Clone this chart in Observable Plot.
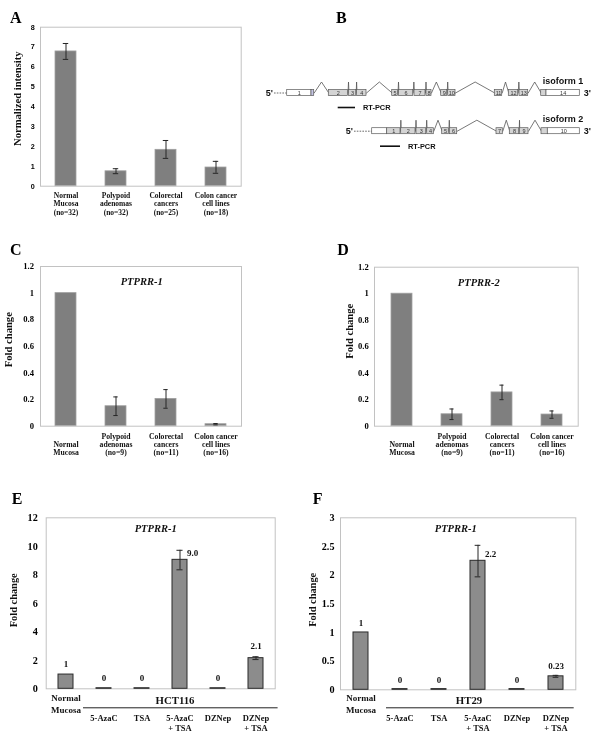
<!DOCTYPE html>
<html><head><meta charset="utf-8">
<script src="https://cdn.jsdelivr.net/npm/d3@7"></script>
<script src="https://cdn.jsdelivr.net/npm/@observablehq/plot@0.6"></script>
<style>
body{margin:0;background:#fff;}
#fig{position:relative;width:600px;height:748px;overflow:hidden;background:#fff;}
.panel{position:absolute;will-change:transform;}
.panel svg{display:block;}
.letter{position:absolute;font:bold 16px 'Liberation Serif','Times New Roman',serif;line-height:16px;color:#000;}
</style></head><body><div id="fig"></div>
<script>
const SERIF = "'Liberation Serif', 'Times New Roman', serif";
const SANS = "'Liberation Sans', Arial, sans-serif";

// ---------- Panel A data ----------
const tissueCats = ["Normal Mucosa", "Polypoid adenomas", "Colorectal cancers", "Colon cancer cell lines"];
const tissueLabelsA = ["Normal\nMucosa\n(no=32)", "Polypoid\nadenomas\n(no=32)", "Colorectal\ncancers\n(no=25)", "Colon cancer\ncell lines\n(no=18)"];
const intensityMean = [6.78, 0.75, 1.83, 0.94];
const intensityLow  = [6.38, 0.63, 1.40, 0.65];
const intensityHigh = [7.18, 0.88, 2.30, 1.25];
const intensityTicks = [0, 1, 2, 3, 4, 5, 6, 7, 8];

// ---------- Panels C, D data ----------
const tissueLabelsCD = ["\nNormal\nMucosa", "Polypoid\nadenomas\n(no=9)", "Colorectal\ncancers\n(no=11)", "Colon cancer\ncell lines\n(no=16)"];
const ptprr1Mean = [1.0, 0.15, 0.205, 0.015];
const ptprr1Low  = [null, 0.08, 0.135, 0.010];
const ptprr1High = [null, 0.22, 0.275, 0.020];
const ptprr2Mean = [1.0, 0.09, 0.255, 0.088];
const ptprr2Low  = [null, 0.05, 0.200, 0.060];
const ptprr2High = [null, 0.13, 0.310, 0.115];
const foldTicksCD = [0, 0.2, 0.4, 0.6, 0.8, 1, 1.2];

// ---------- Panels E, F data ----------
const treatments = ["Normal Mucosa", "5-AzaC", "TSA", "5-AzaC + TSA", "DZNep", "DZNep + TSA"];
const treatmentLabels = ["Normal\nMucosa", "5-AzaC", "TSA", "5-AzaC\n+ TSA", "DZNep", "DZNep\n+ TSA"];
const hct116Mean = [1.0, 0.04, 0.04, 9.05, 0.04, 2.15];
const hct116Low  = [null, null, null, 8.35, null, 2.05];
const hct116High = [null, null, null, 9.72, null, 2.25];
const hct116Text = ["1", "0", "0", "9.0", "0", "2.1"];
const hct116Ticks = [0, 2, 4, 6, 8, 10, 12];
const ht29Mean = [1.0, 0.012, 0.012, 2.25, 0.012, 0.235];
const ht29Low  = [null, null, null, 1.97, null, 0.218];
const ht29High = [null, null, null, 2.52, null, 0.252];
const ht29Text = ["1", "0", "0", "2.2", "0", "0.23"];
const ht29Ticks = [0, 0.5, 1, 1.5, 2, 2.5, 3];

// ---------- Panel B data (schematic, diagram units) ----------
const iso1ExonLabel = ["1", "", "2", "3", "4", "5", "6", "7", "8", "9", "10", "11", "12", "13", "", "14"];
const iso1ExonStart = [286.7, 311, 328.3, 348.5, 356.5, 391.7, 398.5, 414, 426, 440.7, 447.7, 494.3, 508.3, 519, 540.7, 546];
const iso1ExonEnd   = [311, 313.7, 347.5, 355.7, 366, 397.5, 412.7, 425, 431, 446.7, 455, 501.7, 517.7, 527.7, 546, 579.3];
const iso1ExonKind  = ["utr", "alt", "cds", "cds", "cds", "cds", "cds", "cds", "cds", "cds", "cds", "cds", "cds", "cds", "cds", "utr"];
const iso1Joined    = [false, true, false, false, false, false, false, false, false, false, false, false, false, false, false, true];
const iso2ExonLabel = ["", "1", "2", "3", "4", "5", "6", "7", "8", "9", "", "10"];
const iso2ExonStart = [371.7, 386.7, 400.7, 416, 426.7, 441.7, 449.3, 496, 509.3, 519.3, 541, 547.3];
const iso2ExonEnd   = [386.7, 400, 415, 425.7, 433.3, 448.3, 456.7, 502.3, 518.7, 528, 547.3, 579.3];
const iso2ExonKind  = ["utr", "cds", "cds", "cds", "cds", "cds", "cds", "cds", "cds", "cds", "cds", "utr"];
const iso2Joined    = [false, true, false, false, false, false, false, false, false, false, false, true];
const isoformNames = ["isoform 1", "isoform 2"];
const isoformRow = [92.5, 130.7];
const isoformDashStart = [274, 354];
const rtpcrStart = [337.7, 380];
const rtpcrEnd = [355, 400];
const rtpcrRow = [107, 145.7];

const fig = document.getElementById("fig");
function addPanel(el, left, top, w) {
  const d = document.createElement("div");
  d.className = "panel";
  d.style.left = left + "px"; d.style.top = top + "px"; d.style.width = w + "px";
  d.appendChild(el); fig.appendChild(d);
}
function addLetter(t, left, top) {
  const d = document.createElement("div");
  d.className = "letter"; d.textContent = t;
  d.style.left = left + "px"; d.style.top = top + "px";
  fig.appendChild(d);
}

function errorMarks(data, inset, stroke) {
  const e = data.filter(d => d.lo != null);
  return [
    Plot.ruleX(e, {x: "cat", y1: "lo", y2: "hi", stroke, strokeWidth: 1}),
    Plot.tickY(e, {x: "cat", y: "lo", stroke, strokeWidth: 1, insetLeft: inset, insetRight: inset}),
    Plot.tickY(e, {x: "cat", y: "hi", stroke, strokeWidth: 1, insetLeft: inset, insetRight: inset})
  ];
}

function tissuePanel(o) {
  const data = tissueCats.map((c, i) => ({cat: c, v: o.mean[i], lo: o.low[i], hi: o.high[i], label: o.labels[i]}));
  const W = 300, H = 240, PI = 0.59;
  const bw = (W - o.ml - o.mr) / tissueCats.length * (1 - PI);
  return Plot.plot({
    width: W, height: H, marginLeft: o.ml, marginRight: o.mr, marginTop: o.mt, marginBottom: o.mb,
    style: {background: "transparent", overflow: "visible"},
    x: {domain: tissueCats, paddingInner: PI, paddingOuter: PI / 2, axis: null},
    y: {domain: o.yDomain, axis: null},
    marks: [
      Plot.barY(data, {x: "cat", y: "v", fill: "#7f7f7f", stroke: "#a0a0a0", strokeWidth: 0.8}),
      Plot.frame({stroke: "#c2c2c2", strokeWidth: 1}),
      ...errorMarks(data, (bw - o.cap) / 2, "#262626"),
      Plot.axisY({ticks: o.ticks, tickSize: 0, tickPadding: o.tickPad, tickFormat: d => String(d),
        fontFamily: o.tickFont, fontWeight: "bold", fontSize: o.tickFontSize, label: null}),
      Plot.text(data, {x: "cat", text: "label", frameAnchor: "bottom", lineAnchor: "top", dy: o.catDy,
        fontFamily: SERIF, fontWeight: "bold", fontSize: o.catSize, lineHeight: o.catLh, fill: "#111"}),
      Plot.text([o.yLabel], {frameAnchor: "left", textAnchor: "middle", lineAnchor: "middle", rotate: -90, dx: o.ylDx, dy: o.ylDy,
        fontFamily: SERIF, fontWeight: "bold", fontSize: 10.6, fill: "#111"}),
      o.title ? Plot.text([o.title], {frameAnchor: "top", lineAnchor: "bottom", dx: o.tDx, dy: o.tDy,
        fontFamily: SERIF, fontWeight: "bold", fontStyle: "italic", fontSize: 10.5, fill: "#111"}) : null
    ]
  });
}

function treatmentPanel(o) {
  const maxV = d3.max(o.mean);
  const data = treatments.map((c, i) => ({
    cat: c, v: o.mean[i], lo: o.low[i], hi: o.high[i], txt: o.text[i],
    top: Math.max(o.mean[i], o.high[i] ?? o.mean[i]), side: o.mean[i] === maxV, label: treatmentLabels[i]
  }));
  const W = 300, H = 268, PI = 0.61;
  const bw = (W - o.ml - o.mr) / treatments.length * (1 - PI);
  return Plot.plot({
    width: W, height: H, marginLeft: o.ml, marginRight: o.mr, marginTop: o.mt, marginBottom: o.mb,
    style: {background: "transparent", overflow: "visible"},
    x: {domain: treatments, paddingInner: PI, paddingOuter: PI / 2, axis: null},
    y: {domain: o.yDomain, axis: null},
    marks: [
      Plot.frame({stroke: "#c2c2c2", strokeWidth: 1}),
      Plot.barY(data, {x: "cat", y: "v", fill: "#8c8c8c", stroke: "#2b2b2b", strokeWidth: 1}),
      ...errorMarks(data, (bw - 6) / 2, "#262626"),
      Plot.axisY({ticks: o.ticks, tickSize: 0, tickPadding: o.tickPad, tickFormat: d => String(d),
        fontFamily: SERIF, fontWeight: "bold", fontSize: 10.2, label: null}),
      Plot.text(data.filter(d => !d.side), {x: "cat", y: "top", text: "txt", lineAnchor: "bottom", dy: o.valDy,
        fontFamily: SERIF, fontWeight: "bold", fontSize: 9, fill: "#111"}),
      Plot.text(data.filter(d => d.side), {x: "cat", y: "v", text: "txt", lineAnchor: "bottom", textAnchor: "start", dx: 7, dy: -4,
        fontFamily: SERIF, fontWeight: "bold", fontSize: 9, fill: "#111"}),
      Plot.text(data.slice(0, 1), {x: "cat", text: "label", frameAnchor: "bottom", lineAnchor: "top", dy: o.normDy,
        fontFamily: SERIF, fontWeight: "bold", fontSize: 9, lineHeight: 1.29, fill: "#111"}),
      Plot.text(data.slice(1), {x: "cat", text: "label", frameAnchor: "bottom", lineAnchor: "top", dy: o.treatDy,
        fontFamily: SERIF, fontWeight: "bold", fontSize: 8.5, lineHeight: 1.18, fill: "#111"}),
      Plot.text([o.cellLine], {x: () => treatments[3], frameAnchor: "bottom", lineAnchor: "bottom", dx: o.cellDx, dy: o.cellDy,
        fontFamily: SERIF, fontWeight: "bold", fontSize: 10.8, fill: "#111"}),
      Plot.ruleY([0], {x1: () => treatments[1], x2: () => treatments[5], dy: o.cellDy + 4,
        insetLeft: o.lineInsetL, insetRight: o.lineInsetR, stroke: "#222", strokeWidth: 1}),
      Plot.text(["Fold change"], {frameAnchor: "left", textAnchor: "middle", lineAnchor: "middle", rotate: -90, dx: o.ylDx, dy: o.ylDy,
        fontFamily: SERIF, fontWeight: "bold", fontSize: 10.4, fill: "#111"}),
      Plot.text([o.title], {frameAnchor: "top", lineAnchor: "bottom", dx: o.tDx, dy: o.tDy,
        fontFamily: SERIF, fontWeight: "bold", fontStyle: "italic", fontSize: 10.5, fill: "#111"})
    ]
  });
}

function isoformPanel() {
  const isoforms = [
    {label: iso1ExonLabel, start: iso1ExonStart, end: iso1ExonEnd, kind: iso1ExonKind, joined: iso1Joined},
    {label: iso2ExonLabel, start: iso2ExonStart, end: iso2ExonEnd, kind: iso2ExonKind, joined: iso2Joined}
  ];
  const exons = [], introns = [];
  const PEAK = 11, HALF = 3;
  isoforms.forEach((iso, k) => {
    const row = isoformRow[k];
    iso.start.forEach((s, i) => {
      exons.push({x1: s, x2: iso.end[i], y1: row - HALF, y2: row + HALF, kind: iso.kind[i], label: iso.label[i], xm: (s + iso.end[i]) / 2, row});
      if (i > 0 && !iso.joined[i]) {
        const a = iso.end[i - 1], b = s, id = k + "-" + i;
        introns.push({id, x: a, y: row}, {id, x: (a + b) / 2, y: row - PEAK}, {id, x: b, y: row});
      }
    });
  });
  const fills = {utr: "#ffffff", alt: "#c6c6e6", cds: "#d4d4d4"};
  const rows = isoformNames.map((n, k) => ({name: n, row: isoformRow[k], dash: isoformDashStart[k],
    first: isoforms[k].start[0], last: isoforms[k].end[isoforms[k].end.length - 1]}));
  const rt = rtpcrStart.map((s, k) => ({x1: s, x2: rtpcrEnd[k], y: rtpcrRow[k]}));
  return Plot.plot({
    width: 345, height: 160, margin: 0,
    style: {background: "transparent", overflow: "visible"},
    x: {domain: [255, 600], range: [0, 345], axis: null},
    y: {domain: [0, 160], range: [0, 160], axis: null},
    marks: [
      Plot.ruleY(rows, {y: "row", x1: "dash", x2: "first", stroke: "#444", strokeWidth: 0.8, strokeDasharray: "1.6,1.2"}),
      Plot.line(introns, {x: "x", y: "y", z: "id", stroke: "#555", strokeWidth: 0.8}),
      Plot.rect(exons, {x1: "x1", x2: "x2", y1: "y1", y2: "y2", fill: d => fills[d.kind], stroke: "#5a5a5a", strokeWidth: 0.7}),
      Plot.text(exons.filter(d => d.label), {x: "xm", y: "row", text: "label", fontFamily: SANS, fontSize: 5.5, fill: "#333"}),
      Plot.text(rows, {x: "dash", y: "row", text: () => "5'", textAnchor: "end", dx: -1.5, fontFamily: SANS, fontWeight: "bold", fontSize: 9, fill: "#111"}),
      Plot.text(rows, {x: "last", y: "row", text: () => "3'", textAnchor: "start", dx: 4, fontFamily: SANS, fontWeight: "bold", fontSize: 9, fill: "#111"}),
      Plot.text(rows, {x: 542.3, y: "row", text: "name", textAnchor: "start", lineAnchor: "bottom", dy: -9, fontFamily: SANS, fontWeight: "bold", fontSize: 9, fill: "#111"}),
      Plot.ruleY(rt, {y: "y", x1: "x1", x2: "x2", stroke: "#111", strokeWidth: 1.6}),
      Plot.text(rt, {x: "x2", y: "y", text: () => "RT-PCR", textAnchor: "start", dx: 7.5, fontFamily: SANS, fontWeight: "bold", fontSize: 7.4, fill: "#111"})
    ]
  });
}

addPanel(tissuePanel({
  mean: intensityMean, low: intensityLow, high: intensityHigh, labels: tissueLabelsA,
  ml: 40, mr: 59.3, mt: 26.7, mb: 54.3, yDomain: [0, 8], ticks: intensityTicks,
  tickFont: SANS, tickFontSize: 7.2, tickPad: 5.7, cap: 5,
  catDy: 5.6, catSize: 7.5, catLh: 1.12, yLabel: "Normalized intensity", ylDx: -22.7, ylDy: -8
}), 0, 0, 300);

addPanel(isoformPanel(), 255, 0, 345);

addPanel(tissuePanel({
  mean: ptprr1Mean, low: ptprr1Low, high: ptprr1High, labels: tissueLabelsCD,
  ml: 40, mr: 59, mt: 26, mb: 54.3, yDomain: [0, 1.2], ticks: foldTicksCD,
  tickFont: SERIF, tickFontSize: 8.6, tickPad: 6.5, cap: 4,
  catDy: 6.7, catSize: 7.7, catLh: 1.08, yLabel: "Fold change", ylDx: -31.7, ylDy: -6.7,
  title: "PTPRR-1", tDx: 0.7, tDy: 18
}), 0, 240, 300);

addPanel(tissuePanel({
  mean: ptprr2Mean, low: ptprr2Low, high: ptprr2High, labels: tissueLabelsCD,
  ml: 74, mr: 22.3, mt: 26.7, mb: 54.3, yDomain: [0, 1.2], ticks: foldTicksCD,
  tickFont: SERIF, tickFontSize: 8.6, tickPad: 5.7, cap: 4,
  catDy: 6.7, catSize: 7.7, catLh: 1.08, yLabel: "Fold change", ylDx: -24.7, ylDy: -15.4,
  title: "PTPRR-2", tDx: 2.5, tDy: 19
}), 300, 240, 300);

addPanel(treatmentPanel({
  mean: hct116Mean, low: hct116Low, high: hct116High, text: hct116Text,
  ml: 45.7, mr: 25.3, mt: 37.3, mb: 59.7, yDomain: [0, 12], ticks: hct116Ticks, tickPad: 8.4,
  valDy: -7.5, normDy: 4.2, treatDy: 25.3, cellLine: "HCT116", cellDx: -5, cellDy: 15,
  lineInsetL: -13, lineInsetR: -14.6, ylDx: -33, ylDy: -3, title: "PTPRR-1", tDx: -5, tDy: 14.4
}), 0, 480, 300);

addPanel(treatmentPanel({
  mean: ht29Mean, low: ht29Low, high: ht29High, text: ht29Text,
  ml: 40, mr: 24.7, mt: 37.3, mb: 58.7, yDomain: [0, 3], ticks: ht29Ticks, tickPad: 6,
  valDy: -6, normDy: 3.2, treatDy: 24.3, cellLine: "HT29", cellDx: -9, cellDy: 14,
  lineInsetL: -6, lineInsetR: -10.7, ylDx: -28.3, ylDy: -4, title: "PTPRR-1", tDx: -2.4, tDy: 14.4
}), 300, 480, 300);

addLetter("A", 10, 9.9);
addLetter("B", 336, 9.9);
addLetter("C", 10, 241.6);
addLetter("D", 337.3, 241.6);
addLetter("E", 11.7, 490.6);
addLetter("F", 312.7, 490.6);
</script>
</body></html>
